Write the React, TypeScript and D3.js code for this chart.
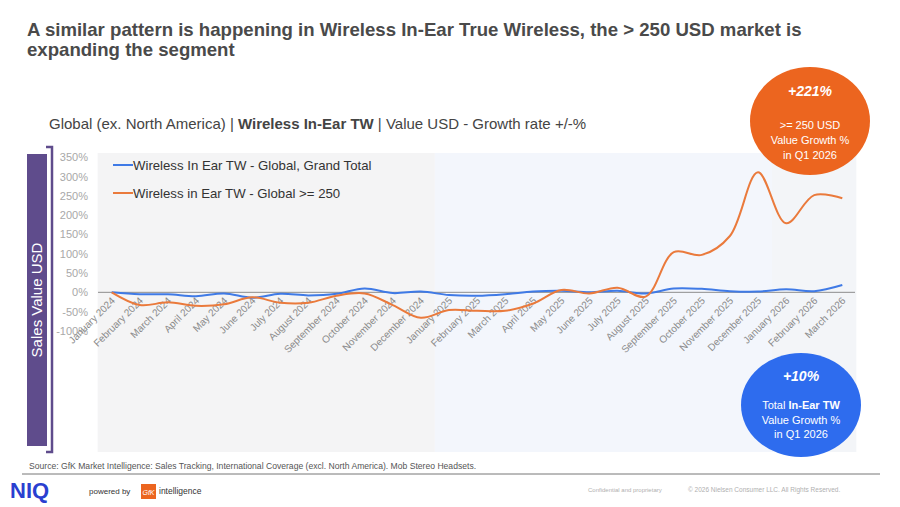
import * as d3 from "d3";

const months = [
  "January 2024", "February 2024", "March 2024", "April 2024", "May 2024", "June 2024",
  "July 2024", "August 2024", "September 2024", "October 2024", "November 2024", "December 2024",
  "January 2025", "February 2025", "March 2025", "April 2025", "May 2025", "June 2025",
  "July 2025", "August 2025", "September 2025", "October 2025", "November 2025", "December 2025",
  "January 2026", "February 2026", "March 2026",
];

// growth rate % vs previous year
const totalGrowth = [0, -5, -5, -10, -3, -14, -4, -8, -4, 10, -2, 2, -7, -9, -5, 2, 4, 0, 4, -3, 10, 9, 3, 2, 8, 3, 19];
const premiumGrowth = [0, -33, -26, -35, -31, -13, -27, -27, -9, -3, -33, -66, -46, -48, -48, -29, 6, -3, 12, -11, 104, 97, 146, 311, 179, 252, 244];

const seriesNames = ["Wireless In Ear TW - Global, Grand Total", "Wireless in Ear TW - Global >= 250"];
const seriesColors = ["#3f7ae6", "#ea7a3c"];

const yTicks = [-100, -50, 0, 50, 100, 150, 200, 250, 300, 350];

// year bands behind the plot (first / last month index)
const yearBands = [
  { first: 0, last: 11, fill: "#f4f4f5" },
  { first: 12, last: 23, fill: "#f3f6fc" },
  { first: 24, last: 26, fill: "#f3f5f8" },
];

const FONT = "'Liberation Sans', Arial, sans-serif";

export default function App() {
  const x = d3.scaleLinear().domain([0, months.length - 1]).range([111.7, 842.3]);
  const y = d3.scaleLinear().domain([-100, 350]).range([330.9, 157.3]);
  const step = x(1) - x(0);

  const line = d3
    .line<number>()
    .x((_, i) => x(i))
    .y((d) => y(d))
    .curve(d3.curveCatmullRom.alpha(0.5));

  const plotTop = 153;
  const plotBottom = 452;

  return (
    <svg
      width={900}
      height={507}
      style={{ position: "absolute", left: 0, top: 0, background: "#fff" }}
      fontFamily={FONT}
    >
      {/* Title */}
      <text x={27} y={36} fontSize={18.6} fontWeight="bold" fill="#4a4a4a">
        A similar pattern is happening in Wireless In-Ear True Wireless, the &gt; 250 USD market is
      </text>
      <text x={27} y={56} fontSize={18.6} fontWeight="bold" fill="#4a4a4a">
        expanding the segment
      </text>

      {/* Subtitle */}
      <text x={49} y={129} fontSize={15} fill="#444">
        Global (ex. North America) | <tspan fontWeight="bold">Wireless In-Ear TW</tspan> | Value USD - Growth rate +/-%
      </text>

      {/* Side label */}
      <rect x={27} y={154} width={20} height={292} fill="#5f4c8c" />
      <text
        transform="translate(42,300) rotate(-90)"
        textAnchor="middle"
        fontSize={15}
        fill="#fff"
      >
        Sales Value USD
      </text>
      <path d="M46,147 H52 V452 H46" fill="none" stroke="#5f4c8c" strokeWidth={2.5} />

      {/* Year bands */}
      {yearBands.map((b, i) => (
        <rect
          key={i}
          x={x(b.first) - step / 2}
          y={plotTop}
          width={x(b.last) - x(b.first) + step}
          height={plotBottom - plotTop}
          fill={b.fill}
        />
      ))}

      {/* Y ticks */}
      {yTicks.map((t) => (
        <text
          key={t}
          x={88}
          y={y(t) + 4}
          textAnchor="end"
          fontSize={11}
          fill="#a8a8a8"
        >
          {t}%
        </text>
      ))}

      {/* Zero line */}
      <line x1={98} x2={855} y1={y(0)} y2={y(0)} stroke="#8c8c8c" strokeWidth={1} />

      {/* X labels */}
      {months.map((m, i) => (
        <text
          key={m}
          transform={`translate(${x(i) + 4},${y(0) + 9}) rotate(-45)`}
          textAnchor="end"
          fontSize={10}
          fill="#8a8a8a"
        >
          {m}
        </text>
      ))}

      {/* Lines */}
      <path d={line(totalGrowth) ?? ""} fill="none" stroke={seriesColors[0]} strokeWidth={2} />
      <path d={line(premiumGrowth) ?? ""} fill="none" stroke={seriesColors[1]} strokeWidth={2} />

      {/* Legend */}
      {seriesNames.map((n, i) => (
        <g key={n} transform={`translate(113,${165 + i * 28})`}>
          <line x1={0} x2={20} y1={0} y2={0} stroke={seriesColors[i]} strokeWidth={2} />
          <text x={20} y={5} fontSize={13.2} fill="#333">
            {n}
          </text>
        </g>
      ))}

      {/* Callout bubbles */}
      <ellipse cx={810} cy={121} rx={60} ry={54} fill="#ec651f" />
      <g fill="#fff" textAnchor="middle">
        <text x={810} y={96} fontSize={14} fontWeight="bold" fontStyle="italic">+221%</text>
        <text x={810} y={129} fontSize={11}>&gt;= 250 USD</text>
        <text x={810} y={144} fontSize={11}>Value Growth %</text>
        <text x={810} y={159} fontSize={11}>in Q1 2026</text>
      </g>

      <ellipse cx={801} cy={405} rx={60} ry={52} fill="#2e6cee" />
      <g fill="#fff" textAnchor="middle">
        <text x={801} y={381} fontSize={14} fontWeight="bold" fontStyle="italic">+10%</text>
        <text x={801} y={409} fontSize={11}>
          Total <tspan fontWeight="bold">In-Ear TW</tspan>
        </text>
        <text x={801} y={424} fontSize={11}>Value Growth %</text>
        <text x={801} y={438} fontSize={11}>in Q1 2026</text>
      </g>

      {/* Source + footer */}
      <text x={29} y={469} fontSize={8.6} fill="#555">
        Source: GfK Market Intelligence: Sales Tracking, International Coverage (excl. North America). Mob Stereo Headsets.
      </text>
      <line x1={22} x2={880} y1={474} y2={474} stroke="#777" strokeWidth={1} />

      <text x={10} y={498} fontSize={22} fontWeight="bold" fill="#2a3fd0">NIQ</text>
      <text x={89} y={494} fontSize={8} fill="#333">powered by</text>
      <rect x={141} y={484} width={15} height={15} fill="#ec651f" />
      <text x={148.5} y={495} fontSize={7} fill="#fff" textAnchor="middle" fontStyle="italic">GfK</text>
      <text x={159} y={494} fontSize={8.5} fill="#333">intelligence</text>

      <text x={588} y={492} fontSize={6} fill="#b0b0b0">Confidential and proprietary</text>
      <text x={688} y={492} fontSize={6.5} fill="#b0b0b0">© 2026 Nielsen Consumer LLC. All Rights Reserved.</text>
    </svg>
  );
}
